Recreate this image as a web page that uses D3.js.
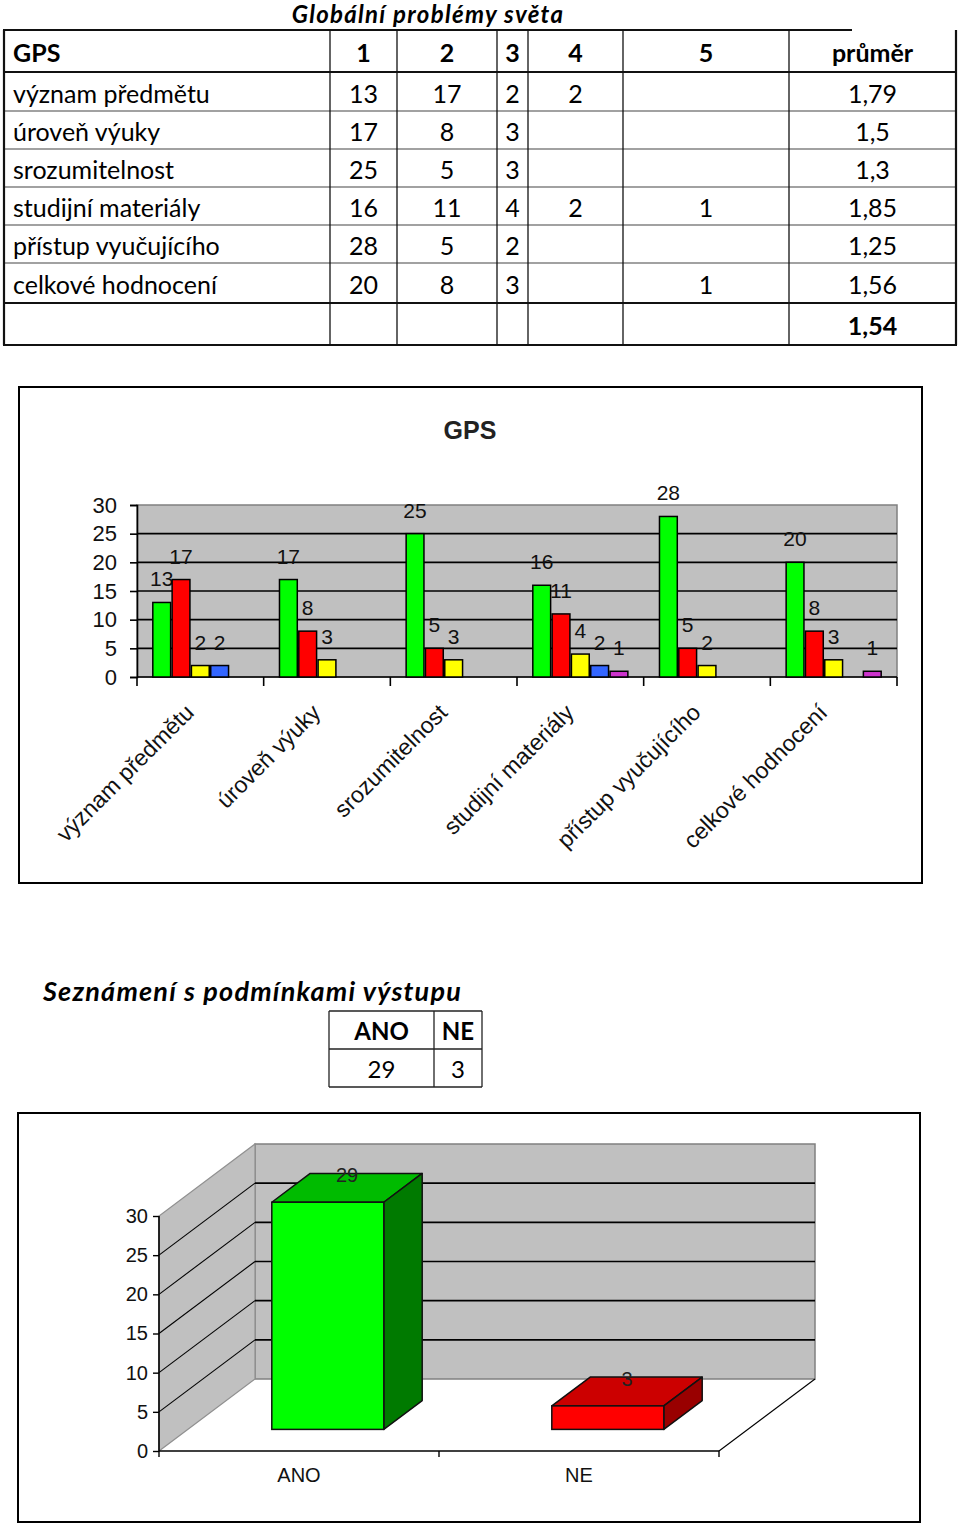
<!DOCTYPE html>
<html><head><meta charset="utf-8">
<script src="https://cdn.jsdelivr.net/npm/d3@7"></script>
<style>body{margin:0;background:#fff}svg{display:block}</style>
</head><body>
<script>
// ---------- DATA ----------
const tableTitle = "Globální problémy světa";
const tableHeader = "GPS";
const averageHeader = "průměr";
const categories = ["význam předmětu","úroveň výuky","srozumitelnost","studijní materiály","přístup vyučujícího","celkové hodnocení"];
const seriesNames = ["1","2","3","4","5"];
const grade1 = [13,17,25,16,28,20];
const grade2 = [17,8,5,11,5,8];
const grade3 = [2,3,3,4,2,3];
const grade4 = [2,null,null,2,null,null];
const grade5 = [null,null,null,1,null,1];
const averages = ["1,79","1,5","1,3","1,85","1,25","1,56"];
const overallAverage = "1,54";
const chartTitle = "GPS";
const yTicks = [0,5,10,15,20,25,30];

const secondTitle = "Seznámení s podmínkami výstupu";
const answerLabels = ["ANO","NE"];
const answerCounts = [29,3];

const seriesColors = ["#00FF00","#FF0000","#FFFF00","#3366FF","#CC33CC"];
const series = [grade1,grade2,grade3,grade4,grade5];

// ---------- SVG ----------
const W = 960, H = 1523;
const svg = d3.select("body").append("svg").attr("width",W).attr("height",H);
const TF = "Lato, 'Open Sans', sans-serif";
const CF = "'Liberation Sans', Arial, sans-serif";

// ---------- TOP TABLE ----------
(function(){
  const cols = [4,330,397,497,528,623,789,956];
  const rows = [30,72,111,149,187,225,263,303,345];
  const g = svg.append("g");
  g.append("text").attr("x",428).attr("y",23).attr("text-anchor","middle")
    .attr("font-family",TF).attr("font-size",24).attr("font-weight","bold").attr("font-style","italic")
    .attr("letter-spacing",1.3).text(tableTitle);
  rows.forEach((y,i)=>{
    const thick = (i===0||i===1||i===rows.length-1||i===rows.length-2);
    g.append("line").attr("x1",cols[0]-1).attr("x2", i===0?852:cols[cols.length-1]+1)
      .attr("y1",y).attr("y2",y).attr("stroke", thick?"#111":"#444").attr("stroke-width",thick?2.2:1.2);
  });
  cols.forEach((x,i)=>{
    const outer = (i===0||i===cols.length-1);
    g.append("line").attr("x1",x).attr("x2",x).attr("y1",rows[0]).attr("y2",rows[rows.length-1])
      .attr("stroke","#111").attr("stroke-width",outer?2.2:1.3);
  });
  const tableRows = [];
  tableRows.push({cells:[tableHeader,...seriesNames,averageHeader], bold:true});
  categories.forEach((c,i)=>{
    tableRows.push({cells:[c, ...series.map(s=>s[i]==null?"":String(s[i])), averages[i]], bold:false});
  });
  tableRows.push({cells:["","","","","","",overallAverage], bold:true});
  tableRows.forEach((r,ri)=>{
    const yc = (rows[ri]+rows[ri+1])/2 + 11;
    r.cells.forEach((t,ci)=>{
      if(!t) return;
      const left = ci===0;
      g.append("text")
        .attr("x", left? cols[0]+9 : (cols[ci]+cols[ci+1])/2)
        .attr("y", yc).attr("text-anchor", left?"start":"middle")
        .attr("font-family",TF).attr("font-size",25).attr("font-weight", r.bold?"bold":"normal")
        .text(t);
    });
  });
})();

// ---------- CHART 1 ----------
(function(){
  const g = svg.append("g");
  g.append("rect").attr("x",19).attr("y",387).attr("width",903).attr("height",496)
    .attr("fill","#fff").attr("stroke","#000").attr("stroke-width",2);
  g.append("text").attr("x",470).attr("y",439).attr("text-anchor","middle")
    .attr("font-family",CF).attr("font-size",25).attr("font-weight","bold").attr("fill","#222").text(chartTitle);
  const x = d3.scaleBand().domain(categories).range([137,897]);
  const xs = d3.scaleBand().domain(d3.range(seriesNames.length)).range([0,x.bandwidth()]).paddingOuter(0.78);
  const y = d3.scaleLinear().domain([0,30]).range([677,505]);
  g.append("rect").attr("x",137).attr("y",y(30)).attr("width",897-137).attr("height",y(0)-y(30))
    .attr("fill","#C0C0C0").attr("stroke","#808080").attr("stroke-width",1.5);
  yTicks.filter(v=>v>0&&v<30).forEach(v=>{
    g.append("line").attr("x1",137).attr("x2",897).attr("y1",y(v)).attr("y2",y(v)).attr("stroke","#000").attr("stroke-width",1.6);
  });
  const ya = g.append("g").attr("transform","translate(137,0)")
    .call(d3.axisLeft(y).tickValues(yTicks).tickSize(7).tickPadding(13));
  ya.select(".domain").attr("stroke","#000").attr("stroke-width",1.6);
  ya.selectAll(".tick line").attr("stroke","#000").attr("stroke-width",1.6);
  ya.selectAll(".tick text").attr("font-family",CF).attr("font-size",22).attr("fill","#111");
  g.append("line").attr("x1",137).attr("x2",897).attr("y1",y(0)).attr("y2",y(0)).attr("stroke","#000").attr("stroke-width",1.6);
  const bounds = categories.map(c=>x(c)).concat([x.range()[1]]);
  bounds.forEach(b=>{
    g.append("line").attr("x1",b).attr("x2",b).attr("y1",y(0)).attr("y2",y(0)+9).attr("stroke","#000").attr("stroke-width",1.6);
  });
  categories.forEach((c,ci)=>{
    series.forEach((s,si)=>{
      const v = s[ci];
      if(v==null) return;
      const bx = x(c)+xs(si), bw = xs.bandwidth()-1.5;
      g.append("rect").attr("x",bx+0.75).attr("y",y(v)).attr("width",bw).attr("height",y(0)-y(v))
        .attr("fill",seriesColors[si]).attr("stroke","#000").attr("stroke-width",1.5);
      g.append("text").attr("x",bx+xs.bandwidth()/2).attr("y",y(v)-16).attr("text-anchor","middle")
        .attr("font-family",CF).attr("font-size",21).attr("fill","#111").text(v);
    });
  });
  categories.forEach(c=>{
    const cx = x(c)+x.bandwidth()/2 - 5, cy = 714;
    g.append("text").attr("transform",`translate(${cx},${cy}) rotate(-45)`)
      .attr("text-anchor","end").attr("font-family",CF).attr("font-size",23).attr("fill","#111").text(c);
  });
})();

// ---------- SECOND TABLE ----------
(function(){
  const g = svg.append("g");
  g.append("text").attr("x",43).attr("y",1001).attr("font-family",TF).attr("font-size",27)
    .attr("font-weight","bold").attr("font-style","italic").attr("letter-spacing",1.2).text(secondTitle);
  const cols = [329,434,482], rows=[1011,1049,1087];
  rows.forEach(r=>g.append("line").attr("x1",cols[0]).attr("x2",cols[2]).attr("y1",r).attr("y2",r).attr("stroke","#222").attr("stroke-width",1.3));
  cols.forEach(c=>g.append("line").attr("x1",c).attr("x2",c).attr("y1",rows[0]).attr("y2",rows[2]).attr("stroke","#222").attr("stroke-width",1.3));
  answerLabels.forEach((a,i)=>{
    const cx=(cols[i]+cols[i+1])/2;
    g.append("text").attr("x",cx).attr("y",1040).attr("text-anchor","middle").attr("font-family",TF)
      .attr("font-size",24).attr("font-weight","bold").text(a);
    g.append("text").attr("x",cx).attr("y",1078).attr("text-anchor","middle").attr("font-family",TF)
      .attr("font-size",24).text(answerCounts[i]);
  });
})();

// ---------- CHART 2 (3D columns) ----------
(function(){
  const g = svg.append("g");
  g.append("rect").attr("x",18).attr("y",1113).attr("width",902).attr("height",409)
    .attr("fill","#fff").attr("stroke","#000").attr("stroke-width",2);
  const DX = 96, DY = -72;
  const y = d3.scaleLinear().domain([0,30]).range([1451,1216]);
  const x = d3.scaleBand().domain(answerLabels).range([159,719]).paddingInner(0.6).paddingOuter(0.3);
  const x0 = 159, x1 = 719, y0 = y(0);
  const pts = a=>a.map(p=>p.join(",")).join(" ");
  g.append("rect").attr("x",x0+DX).attr("y",y(30)+DY).attr("width",x1-x0).attr("height",y(0)-y(30))
    .attr("fill","#C0C0C0").attr("stroke","#808080").attr("stroke-width",1.5);
  g.append("polygon").attr("points",pts([[x0,y(0)],[x0,y(30)],[x0+DX,y(30)+DY],[x0+DX,y(0)+DY]]))
    .attr("fill","#C0C0C0").attr("stroke","#909090").attr("stroke-width",1.2);
  yTicks.filter(v=>v>0&&v<30).forEach(v=>{
    g.append("line").attr("x1",x0+DX).attr("x2",x1+DX).attr("y1",y(v)+DY).attr("y2",y(v)+DY).attr("stroke","#000").attr("stroke-width",1.6);
    g.append("line").attr("x1",x0).attr("x2",x0+DX).attr("y1",y(v)).attr("y2",y(v)+DY).attr("stroke","#000").attr("stroke-width",1.1);
  });
  g.append("line").attr("x1",x0).attr("x2",x1).attr("y1",y0).attr("y2",y0).attr("stroke","#000").attr("stroke-width",1.6);
  g.append("line").attr("x1",x1).attr("x2",x1+DX).attr("y1",y0).attr("y2",y0+DY).attr("stroke","#000").attr("stroke-width",1.1);
  g.append("line").attr("x1",x0).attr("x2",x0).attr("y1",y(30)).attr("y2",y0).attr("stroke","#000").attr("stroke-width",1.6);
  const ya = g.append("g").attr("transform",`translate(${x0},0)`)
    .call(d3.axisLeft(y).tickValues(yTicks).tickSize(6).tickPadding(5));
  ya.select(".domain").remove();
  ya.selectAll(".tick line").attr("stroke","#000").attr("stroke-width",1.4);
  ya.selectAll(".tick text").attr("font-family",CF).attr("font-size",20).attr("fill","#111");
  [x0, x0+x.step(), x1].forEach(b=>{
    g.append("line").attr("x1",b).attr("x2",b).attr("y1",y0).attr("y2",y0+6).attr("stroke","#000").attr("stroke-width",1.4);
  });
  answerLabels.forEach(a=>{
    g.append("text").attr("x",x(a)+x.bandwidth()/2).attr("y",1482).attr("text-anchor","middle")
      .attr("font-family",CF).attr("font-size",20).attr("fill","#111").text(a);
  });
  const faceColors = [["#00FF00","#00BB00","#007A00"],["#FF0000","#CC0000","#990000"]];
  const f1 = 0.30, f2 = 0.70;
  answerLabels.forEach((a,i)=>{
    const v = answerCounts[i];
    const ox = DX*f1, oy = DY*f1, bx = DX*f2, by = DY*f2;
    const L = x(a)+ox, R = x(a)+x.bandwidth()+ox, T = y(v)+oy, B = y(0)+oy;
    const dx = bx-ox, dy = by-oy;
    const [cf, ct, cs] = faceColors[i];
    g.append("polygon").attr("points",pts([[L,T],[R,T],[R+dx,T+dy],[L+dx,T+dy]]))
      .attr("fill",ct).attr("stroke","#111").attr("stroke-width",1.5).attr("stroke-linejoin","round");
    g.append("polygon").attr("points",pts([[R,T],[R+dx,T+dy],[R+dx,B+dy],[R,B]]))
      .attr("fill",cs).attr("stroke","#111").attr("stroke-width",1.5).attr("stroke-linejoin","round");
    g.append("rect").attr("x",L).attr("y",T).attr("width",R-L).attr("height",B-T)
      .attr("fill",cf).attr("stroke","#111").attr("stroke-width",1.5);
    g.append("text").attr("x",(L+R)/2+dx/2).attr("y",T+dy/2-6).attr("text-anchor","middle")
      .attr("font-family",CF).attr("font-size",20).attr("fill","#222").text(v);
  });
})();
</script>
</body></html>
